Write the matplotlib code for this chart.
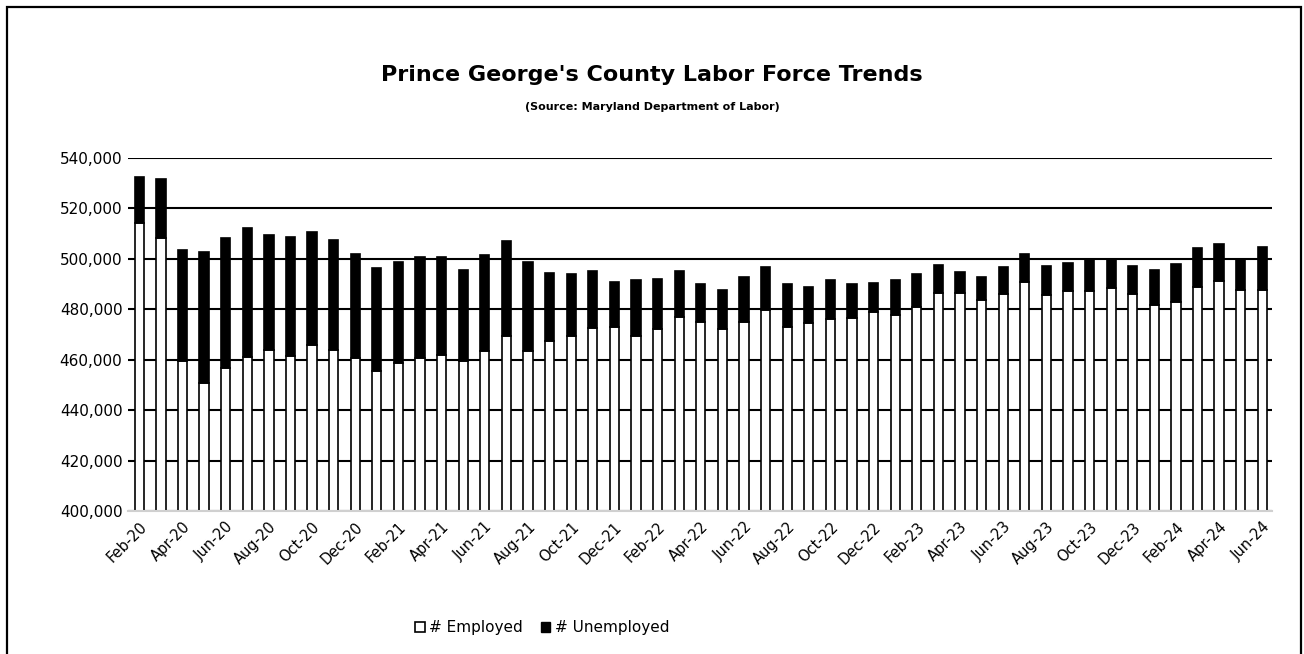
import numpy as np
import matplotlib
matplotlib.use("Agg")
import matplotlib.pyplot as plt
from matplotlib.patches import Patch, Rectangle
from matplotlib.ticker import FuncFormatter

# monthly labor force, Feb 2020 - Jun 2024
months = ["Feb-20", "Mar-20", "Apr-20", "May-20", "Jun-20", "Jul-20", "Aug-20", "Sep-20",
          "Oct-20", "Nov-20", "Dec-20", "Jan-21", "Feb-21", "Mar-21", "Apr-21", "May-21",
          "Jun-21", "Jul-21", "Aug-21", "Sep-21", "Oct-21", "Nov-21", "Dec-21", "Jan-22",
          "Feb-22", "Mar-22", "Apr-22", "May-22", "Jun-22", "Jul-22", "Aug-22", "Sep-22",
          "Oct-22", "Nov-22", "Dec-22", "Jan-23", "Feb-23", "Mar-23", "Apr-23", "May-23",
          "Jun-23", "Jul-23", "Aug-23", "Sep-23", "Oct-23", "Nov-23", "Dec-23", "Jan-24",
          "Feb-24", "Mar-24", "Apr-24", "May-24", "Jun-24"]

employed = [514100, 508400, 459500, 450800, 456800, 461200, 463900, 461600,
            465800, 463900, 460600, 455400, 458800, 460800, 461900, 459500,
            463500, 469400, 463500, 467300, 469400, 472500, 473100, 469400,
            472100, 476900, 474800, 472100, 475100, 479700, 473100, 474700,
            476300, 476500, 479000, 477700, 481000, 486600, 486600, 483600,
            486200, 490700, 485500, 487300, 487400, 488400, 486200, 481600,
            482900, 488800, 491100, 487800, 487700]

labor_force = [532600, 531500, 503500, 502800, 508100, 512200, 509600, 508500,
               510800, 507500, 502000, 496500, 498600, 500600, 500600, 495600,
               501500, 507200, 498900, 494400, 494000, 495100, 491000, 491400,
               491800, 495100, 489900, 487600, 492700, 496600, 489900, 488800,
               491400, 489900, 490300, 491400, 494100, 497400, 494800, 492900,
               496800, 501900, 497000, 498200, 499800, 499800, 497000, 495600,
               497900, 504200, 505800, 499800, 504600]

unemployed = [t - e for t, e in zip(labor_force, employed)]

fig = plt.figure(figsize=(13.04, 6.54), dpi=100)
ax = fig.add_axes([0.0982, 0.2187, 0.8773, 0.5398])

x = np.arange(len(months))
w = 0.43
ax.bar(x, employed, width=w, color="white", edgecolor="black", linewidth=1.2, zorder=3)
ax.bar(x, unemployed, width=w, bottom=employed, color="black", edgecolor="black",
       linewidth=1.2, zorder=3)

ax.set_ylim(400000, 540000)
ax.set_xlim(-0.52, len(months) - 0.55)
ax.set_yticks(np.arange(400000, 540001, 20000))
ax.yaxis.set_major_formatter(FuncFormatter(lambda v, p: f"{int(v):,}"))
ax.grid(axis="y", color="black", linewidth=1.5, zorder=0)
ax.set_axisbelow(True)

for s in ["left", "right", "top"]:
    ax.spines[s].set_visible(False)
ax.spines["bottom"].set_color("#d0d0d0")
ax.spines["bottom"].set_linewidth(1.5)
ax.spines["bottom"].set_zorder(4)

ax.set_xticks(x[::2])
ax.set_xticklabels(months[::2], rotation=45, ha="right", rotation_mode="anchor", fontsize=10.5)
ax.tick_params(axis="x", length=0, pad=6)
ax.tick_params(axis="y", length=0, labelsize=11, pad=4)

fig.text(0.5, 0.885, "Prince George's County Labor Force Trends", ha="center", va="center",
         fontsize=16, fontweight="bold")
fig.text(0.5, 0.837, "(Source: Maryland Department of Labor)", ha="center", va="center",
         fontsize=8, fontweight="bold")

handles = [Patch(facecolor="white", edgecolor="black", linewidth=1.2, label="# Employed"),
           Patch(facecolor="black", edgecolor="black", label="# Unemployed")]
fig.legend(handles=handles, loc="center", bbox_to_anchor=(0.416, 0.04), ncol=2,
           frameon=False, fontsize=11, handlelength=0.6, handleheight=0.6,
           handletextpad=0.3, columnspacing=1.2)

# outer frame
fig.patches.append(Rectangle((7 / 1304, -0.05), 1294 / 1304, 1.05 - 7 / 654,
                             transform=fig.transFigure, fill=False,
                             edgecolor="black", linewidth=1.6))

fig.savefig("out.png", dpi=100)
